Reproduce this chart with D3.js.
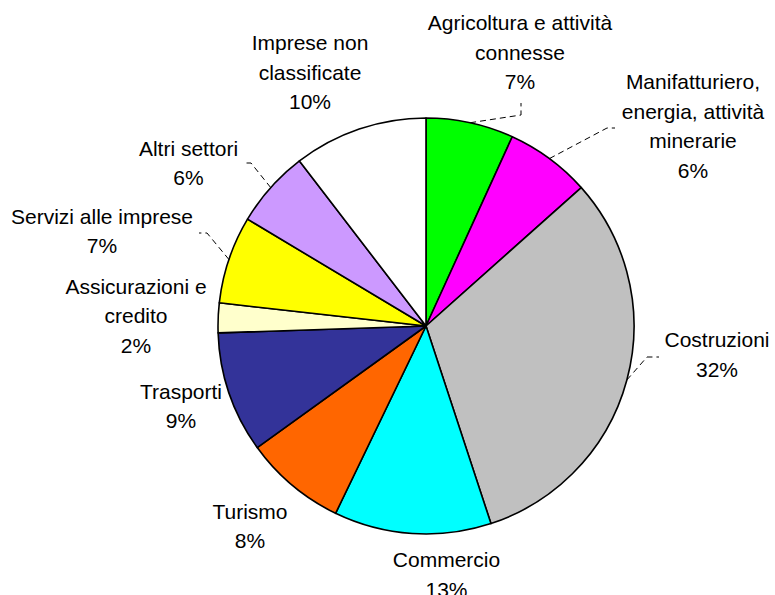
<!DOCTYPE html>
<html>
<head>
<meta charset="utf-8">
<script src="https://cdn.jsdelivr.net/npm/d3@7/dist/d3.min.js"></script>
<style>
  html, body { margin: 0; padding: 0; background: #fff; }
  svg { display: block; }
  text { font-family: "Liberation Sans", Arial, sans-serif; font-size: 21px; fill: #000; }
</style>
</head>
<body>
<svg id="chart" width="775" height="595"></svg>
<script>
// ---- data ----
const categories = [
  "Agricoltura e attività connesse",
  "Manifatturiero, energia, attività minerarie",
  "Costruzioni",
  "Commercio",
  "Turismo",
  "Trasporti",
  "Assicurazioni e credito",
  "Servizi alle imprese",
  "Altri settori",
  "Imprese non classificate"
];
const values = [6.8, 6.6, 31.5, 12.2, 7.9, 9.4, 2.3, 6.8, 6.0, 10.4];
const percentLabels = ["7%", "6%", "32%", "13%", "8%", "9%", "2%", "7%", "6%", "10%"];
const labelLines = [
  ["Agricoltura e attività", "connesse"],
  ["Manifatturiero,", "energia, attività", "minerarie"],
  ["Costruzioni"],
  ["Commercio"],
  ["Turismo"],
  ["Trasporti"],
  ["Assicurazioni e", "credito"],
  ["Servizi alle imprese"],
  ["Altri settori"],
  ["Imprese non", "classificate"]
];
const colors = ["#00FF00", "#FF00FF", "#C0C0C0", "#00FFFF", "#FF6600",
                "#333399", "#FFFFCC", "#FFFF00", "#CC99FF", "#FFFFFF"];

// ---- layout (positions kept separate from data) ----
const cx = 426, cy = 326, R = 208, lineH = 29.5;
// label anchor: centre x, first baseline y; leader: elbow points (null = none)
const labelLayout = [
  { x: 520,   y: 30,    leader: [[521, 115], [521, 103]] },
  { x: 693,   y: 89,    leader: [[607, 128], [615, 128]] },
  { x: 717,   y: 347,   leader: [[647, 357], [659, 357]] },
  { x: 446.5, y: 567,   leader: null },
  { x: 250,   y: 518.5, leader: null },
  { x: 181,   y: 398.5, leader: null },
  { x: 136,   y: 293.5, leader: null },
  { x: 102,   y: 223.5, leader: [[207, 233], [199, 233]] },
  { x: 188.5, y: 155.5, leader: [[251, 163], [243, 163]] },
  { x: 310,   y: 50,    leader: null }
];

const svg = d3.select("#chart");
const g = svg.append("g").attr("transform", `translate(${cx},${cy})`);

const pie = d3.pie().sort(null).value(d => d)
  .startAngle(0).endAngle(2 * Math.PI);
const arcs = pie(values);
const arc = d3.arc().innerRadius(0).outerRadius(R);

g.selectAll("path.slice")
  .data(arcs)
  .join("path")
  .attr("class", "slice")
  .attr("d", arc)
  .attr("fill", (d, i) => colors[i])
  .attr("stroke", "#000")
  .attr("stroke-width", 1.6)
  .attr("stroke-linejoin", "round");

// leader lines
const rimPoint = d => {
  const a = (d.startAngle + d.endAngle) / 2;
  return [cx + R * Math.sin(a), cy - R * Math.cos(a)];
};
const line = d3.line();
svg.selectAll("path.leader")
  .data(arcs.filter((d, i) => labelLayout[i].leader))
  .join("path")
  .attr("class", "leader")
  .attr("d", d => line([rimPoint(d), ...labelLayout[d.index].leader]))
  .attr("fill", "none")
  .attr("stroke", "#000")
  .attr("stroke-width", 1)
  .attr("stroke-dasharray", "6,4");

// labels
const lbl = svg.selectAll("text.lbl")
  .data(arcs)
  .join("text")
  .attr("class", "lbl")
  .attr("text-anchor", "middle");
lbl.each(function(d, i) {
  const lines = labelLines[i].concat([percentLabels[i]]);
  const t = d3.select(this);
  lines.forEach((s, k) => {
    t.append("tspan")
      .attr("x", labelLayout[i].x)
      .attr("y", labelLayout[i].y + k * lineH)
      .text(s);
  });
});
</script>
</body>
</html>
